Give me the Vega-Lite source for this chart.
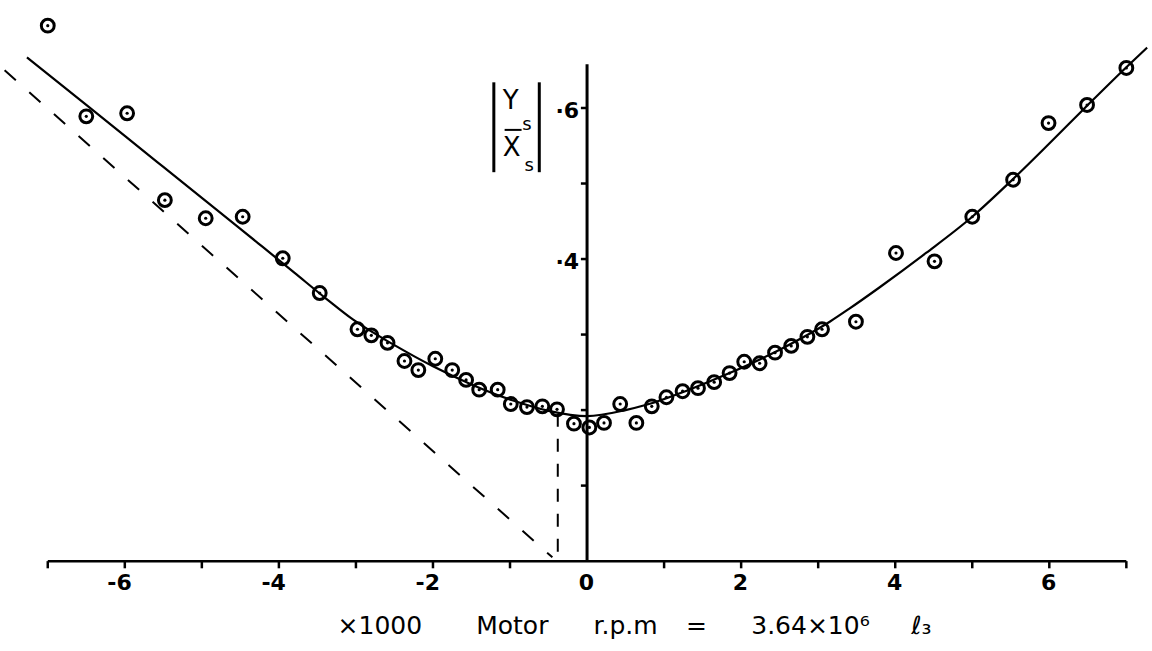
{
 "$schema": "https://vega.github.io/schema/vega-lite/v6.json",
 "width": 1152, "height": 651,
 "autosize": {"type": "fit", "contains": "padding"},
 "padding": 0,
 "background": "white",
 "config": {"view": {"stroke": null}, "axis": {"disable": true}, "legend": {"disable": true}},
 "datasets": {
  "pts": [
   {"rpm": -7.0, "ratio": 0.709}, {"rpm": -6.5, "ratio": 0.589}, {"rpm": -5.97, "ratio": 0.593},
   {"rpm": -5.48, "ratio": 0.478}, {"rpm": -4.95, "ratio": 0.454}, {"rpm": -4.47, "ratio": 0.456},
   {"rpm": -3.95, "ratio": 0.401}, {"rpm": -3.47, "ratio": 0.355}, {"rpm": -2.98, "ratio": 0.307},
   {"rpm": -2.8, "ratio": 0.299}, {"rpm": -2.59, "ratio": 0.289}, {"rpm": -2.37, "ratio": 0.265},
   {"rpm": -2.19, "ratio": 0.253}, {"rpm": -1.97, "ratio": 0.268}, {"rpm": -1.75, "ratio": 0.253},
   {"rpm": -1.57, "ratio": 0.24}, {"rpm": -1.4, "ratio": 0.227}, {"rpm": -1.16, "ratio": 0.227},
   {"rpm": -0.99, "ratio": 0.208}, {"rpm": -0.78, "ratio": 0.204}, {"rpm": -0.58, "ratio": 0.205},
   {"rpm": -0.39, "ratio": 0.201}, {"rpm": -0.17, "ratio": 0.182}, {"rpm": 0.03, "ratio": 0.177},
   {"rpm": 0.22, "ratio": 0.183}, {"rpm": 0.43, "ratio": 0.208}, {"rpm": 0.64, "ratio": 0.183},
   {"rpm": 0.84, "ratio": 0.205}, {"rpm": 1.03, "ratio": 0.217}, {"rpm": 1.24, "ratio": 0.225},
   {"rpm": 1.44, "ratio": 0.229}, {"rpm": 1.65, "ratio": 0.237}, {"rpm": 1.85, "ratio": 0.249},
   {"rpm": 2.04, "ratio": 0.264}, {"rpm": 2.24, "ratio": 0.262}, {"rpm": 2.44, "ratio": 0.276},
   {"rpm": 2.65, "ratio": 0.285}, {"rpm": 2.86, "ratio": 0.297}, {"rpm": 3.05, "ratio": 0.307},
   {"rpm": 3.49, "ratio": 0.317}, {"rpm": 4.01, "ratio": 0.408}, {"rpm": 4.51, "ratio": 0.397},
   {"rpm": 5.0, "ratio": 0.456}, {"rpm": 5.53, "ratio": 0.505}, {"rpm": 5.99, "ratio": 0.58},
   {"rpm": 6.49, "ratio": 0.604}, {"rpm": 7.0, "ratio": 0.653}
  ],
  "curve": [
   {"rpm": -7.27, "ratio": 0.667}, {"rpm": -6.5, "ratio": 0.604}, {"rpm": -6.0, "ratio": 0.563},
   {"rpm": -5.5, "ratio": 0.522}, {"rpm": -5.0, "ratio": 0.481}, {"rpm": -4.5, "ratio": 0.44},
   {"rpm": -4.21, "ratio": 0.416}, {"rpm": -3.8, "ratio": 0.382}, {"rpm": -3.38, "ratio": 0.347},
   {"rpm": -3.04, "ratio": 0.32}, {"rpm": -2.5, "ratio": 0.286}, {"rpm": -2.0, "ratio": 0.258},
   {"rpm": -1.5, "ratio": 0.234}, {"rpm": -0.97, "ratio": 0.213}, {"rpm": -0.5, "ratio": 0.199},
   {"rpm": 0.0, "ratio": 0.192}, {"rpm": 0.5, "ratio": 0.2}, {"rpm": 0.77, "ratio": 0.207},
   {"rpm": 1.3, "ratio": 0.226}, {"rpm": 1.85, "ratio": 0.249}, {"rpm": 2.5, "ratio": 0.28},
   {"rpm": 3.15, "ratio": 0.317}, {"rpm": 3.4, "ratio": 0.334}, {"rpm": 3.79, "ratio": 0.362},
   {"rpm": 4.4, "ratio": 0.408}, {"rpm": 5.0, "ratio": 0.456}, {"rpm": 5.52, "ratio": 0.505},
   {"rpm": 6.0, "ratio": 0.553}, {"rpm": 6.49, "ratio": 0.603}, {"rpm": 7.0, "ratio": 0.654},
   {"rpm": 7.27, "ratio": 0.68}
  ],
  "asym": [{"rpm": -7.56, "ratio": 0.65}, {"rpm": -0.45, "ratio": 0.005}],
  "xticks": [{"rpm": -7}, {"rpm": -6}, {"rpm": -5}, {"rpm": -4}, {"rpm": -3}, {"rpm": -2}, {"rpm": -1}, {"rpm": 1}, {"rpm": 2}, {"rpm": 3}, {"rpm": 4}, {"rpm": 5}, {"rpm": 6}, {"rpm": 7}],
  "xlabels": [{"rpm": -6, "t": "-6"}, {"rpm": -4, "t": "-4"}, {"rpm": -2, "t": "-2"}, {"rpm": 0, "t": "0"}, {"rpm": 2, "t": "2"}, {"rpm": 4, "t": "4"}, {"rpm": 6, "t": "6"}],
  "yticks": [{"ratio": 0.1}, {"ratio": 0.2}, {"ratio": 0.3}, {"ratio": 0.4}, {"ratio": 0.5}, {"ratio": 0.6}],
  "ylabels": [{"ratio": 0.4, "t": "·4"}, {"ratio": 0.6, "t": "·6"}],
  "xtitle": [
   {"rpm": -2.69, "t": "×1000"}, {"rpm": -0.97, "t": "Motor"}, {"rpm": 0.5, "t": "r.p.m"},
   {"rpm": 1.42, "t": "="}, {"rpm": 2.9, "t": "3.64×10⁶"}, {"rpm": 4.34, "t": "ℓ₃"}
  ],
  "ybig": [{"rpm": -0.99, "ratio": 0.609, "t": "Y"}, {"rpm": -0.98, "ratio": 0.547, "t": "X"}],
  "ysub": [{"rpm": -0.78, "ratio": 0.578, "t": "s"}, {"rpm": -0.75, "ratio": 0.523, "t": "s"}],
  "bars": [{"rpm": -1.21}, {"rpm": -0.62}]
 },
 "layer": [
  {
   "data": {"values": [{"a": -7, "b": 7, "v": 0}]},
   "mark": {"type": "rule", "color": "black", "strokeWidth": 2.5},
   "encoding": {
    "x": {"field": "a", "type": "quantitative", "scale": {"domain": [-7.62, 7.32], "nice": false, "zero": false}},
    "x2": {"field": "b"},
    "y": {"field": "v", "type": "quantitative", "scale": {"domain": [-0.119, 0.743], "nice": false, "zero": false}}
   }
  },
  {
   "data": {"values": [{"v": 0, "a": 0, "b": 0.658}]},
   "mark": {"type": "rule", "color": "black", "strokeWidth": 3},
   "encoding": {
    "x": {"field": "v", "type": "quantitative", "scale": {"domain": [-7.62, 7.32], "nice": false, "zero": false}},
    "y": {"field": "a", "type": "quantitative", "scale": {"domain": [-0.119, 0.743], "nice": false, "zero": false}},
    "y2": {"field": "b"}
   }
  },
  {
   "data": {"name": "xticks"},
   "mark": {"type": "rule", "color": "black", "strokeWidth": 2.5},
   "encoding": {
    "x": {"field": "rpm", "type": "quantitative", "scale": {"domain": [-7.62, 7.32], "nice": false, "zero": false}},
    "y": {"datum": 0, "type": "quantitative", "scale": {"domain": [-0.119, 0.743], "nice": false, "zero": false}},
    "y2": {"datum": -0.0095}
   }
  },
  {
   "data": {"name": "yticks"},
   "mark": {"type": "rule", "color": "black", "strokeWidth": 2.5},
   "encoding": {
    "x": {"datum": -0.08, "type": "quantitative", "scale": {"domain": [-7.62, 7.32], "nice": false, "zero": false}},
    "x2": {"datum": 0},
    "y": {"field": "ratio", "type": "quantitative", "scale": {"domain": [-0.119, 0.743], "nice": false, "zero": false}}
   }
  },
  {
   "data": {"name": "xlabels"},
   "mark": {"type": "text", "font": "DejaVu Sans", "fontWeight": "bold", "fontSize": 22, "align": "right", "baseline": "middle", "dx": 7, "dy": 22, "color": "black"},
   "encoding": {
    "x": {"field": "rpm", "type": "quantitative", "scale": {"domain": [-7.62, 7.32], "nice": false, "zero": false}},
    "y": {"datum": 0, "type": "quantitative", "scale": {"domain": [-0.119, 0.743], "nice": false, "zero": false}},
    "text": {"field": "t"}
   }
  },
  {
   "data": {"name": "ylabels"},
   "mark": {"type": "text", "font": "DejaVu Sans", "fontWeight": "bold", "fontSize": 22, "align": "right", "baseline": "middle", "dx": -8, "dy": 3, "color": "black"},
   "encoding": {
    "x": {"datum": 0, "type": "quantitative", "scale": {"domain": [-7.62, 7.32], "nice": false, "zero": false}},
    "y": {"field": "ratio", "type": "quantitative", "scale": {"domain": [-0.119, 0.743], "nice": false, "zero": false}},
    "text": {"field": "t"}
   }
  },
  {
   "data": {"name": "asym"},
   "mark": {"type": "line", "color": "black", "strokeWidth": 2, "strokeDash": [15, 18]},
   "encoding": {
    "x": {"field": "rpm", "type": "quantitative", "scale": {"domain": [-7.62, 7.32], "nice": false, "zero": false}},
    "y": {"field": "ratio", "type": "quantitative", "scale": {"domain": [-0.119, 0.743], "nice": false, "zero": false}}
   }
  },
  {
   "data": {"values": [{"rpm": -0.38, "lo": 0, "hi": 0.195}]},
   "mark": {"type": "rule", "color": "black", "strokeWidth": 2, "strokeDash": [13, 12]},
   "encoding": {
    "x": {"field": "rpm", "type": "quantitative", "scale": {"domain": [-7.62, 7.32], "nice": false, "zero": false}},
    "y": {"field": "hi", "type": "quantitative", "scale": {"domain": [-0.119, 0.743], "nice": false, "zero": false}},
    "y2": {"field": "lo"}
   }
  },
  {
   "data": {"name": "curve"},
   "mark": {"type": "line", "color": "black", "strokeWidth": 2.2, "interpolate": "monotone"},
   "encoding": {
    "x": {"field": "rpm", "type": "quantitative", "scale": {"domain": [-7.62, 7.32], "nice": false, "zero": false}},
    "y": {"field": "ratio", "type": "quantitative", "scale": {"domain": [-0.119, 0.743], "nice": false, "zero": false}}
   }
  },
  {
   "data": {"name": "pts"},
   "mark": {"type": "point", "shape": "circle", "filled": false, "stroke": "black", "strokeWidth": 3, "size": 165, "opacity": 1},
   "encoding": {
    "x": {"field": "rpm", "type": "quantitative", "scale": {"domain": [-7.62, 7.32], "nice": false, "zero": false}},
    "y": {"field": "ratio", "type": "quantitative", "scale": {"domain": [-0.119, 0.743], "nice": false, "zero": false}}
   }
  },
  {
   "data": {"name": "pts"},
   "mark": {"type": "point", "shape": "circle", "filled": true, "color": "black", "size": 10, "opacity": 1},
   "encoding": {
    "x": {"field": "rpm", "type": "quantitative", "scale": {"domain": [-7.62, 7.32], "nice": false, "zero": false}},
    "y": {"field": "ratio", "type": "quantitative", "scale": {"domain": [-0.119, 0.743], "nice": false, "zero": false}}
   }
  },
  {
   "data": {"name": "ybig"},
   "mark": {"type": "text", "font": "DejaVu Sans", "fontSize": 26, "align": "center", "baseline": "middle", "color": "black"},
   "encoding": {
    "x": {"field": "rpm", "type": "quantitative", "scale": {"domain": [-7.62, 7.32], "nice": false, "zero": false}},
    "y": {"field": "ratio", "type": "quantitative", "scale": {"domain": [-0.119, 0.743], "nice": false, "zero": false}},
    "text": {"field": "t"}
   }
  },
  {
   "data": {"name": "ysub"},
   "mark": {"type": "text", "font": "DejaVu Sans", "fontSize": 18, "align": "center", "baseline": "middle", "color": "black"},
   "encoding": {
    "x": {"field": "rpm", "type": "quantitative", "scale": {"domain": [-7.62, 7.32], "nice": false, "zero": false}},
    "y": {"field": "ratio", "type": "quantitative", "scale": {"domain": [-0.119, 0.743], "nice": false, "zero": false}},
    "text": {"field": "t"}
   }
  },
  {
   "data": {"values": [{"a": -1.07, "b": -0.85, "v": 0.571}]},
   "mark": {"type": "rule", "color": "black", "strokeWidth": 2},
   "encoding": {
    "x": {"field": "a", "type": "quantitative", "scale": {"domain": [-7.62, 7.32], "nice": false, "zero": false}},
    "x2": {"field": "b"},
    "y": {"field": "v", "type": "quantitative", "scale": {"domain": [-0.119, 0.743], "nice": false, "zero": false}}
   }
  },
  {
   "data": {"name": "bars"},
   "mark": {"type": "rule", "color": "black", "strokeWidth": 3},
   "encoding": {
    "x": {"field": "rpm", "type": "quantitative", "scale": {"domain": [-7.62, 7.32], "nice": false, "zero": false}},
    "y": {"datum": 0.634, "type": "quantitative", "scale": {"domain": [-0.119, 0.743], "nice": false, "zero": false}},
    "y2": {"datum": 0.515}
   }
  },
  {
   "data": {"name": "xtitle"},
   "mark": {"type": "text", "font": "DejaVu Sans", "fontSize": 25, "align": "center", "baseline": "middle", "color": "black"},
   "encoding": {
    "x": {"field": "rpm", "type": "quantitative", "scale": {"domain": [-7.62, 7.32], "nice": false, "zero": false}},
    "y": {"datum": -0.086, "type": "quantitative", "scale": {"domain": [-0.119, 0.743], "nice": false, "zero": false}},
    "text": {"field": "t"}
   }
  }
 ]
}
